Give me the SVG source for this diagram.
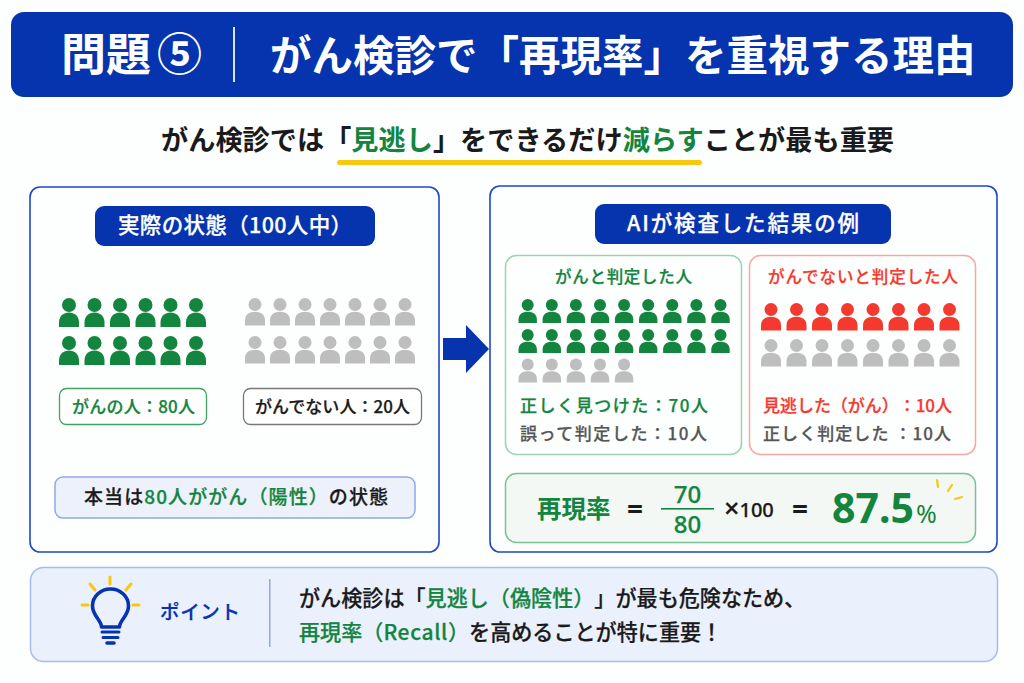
<svg xmlns="http://www.w3.org/2000/svg" width="1024" height="683" viewBox="0 0 1024 683">
<style>
text{font-family:"Noto Sans CJK JP","Noto Sans",sans-serif;font-weight:700;text-spacing-trim:space-all}
.n{font-family:"Noto Sans","Noto Sans CJK JP",sans-serif}
.m{font-weight:500;stroke-width:.25}
.pg{fill:#13853E}.pa{fill:#BEBEBE}.pr{fill:#F4392E}
.g{fill:#13853E;stroke:#13853E}.k{fill:#1A1A1A;stroke:#1A1A1A}.w{fill:#fff;stroke:#fff}.d{fill:#565656;stroke:#565656}.r{fill:#F4392E;stroke:#F4392E}.b{fill:#0534AE;stroke:#0534AE}
text{stroke-width:0}
text.m{stroke-width:.25}
.panel{fill:#FDFEFE;stroke:#1E47C8;stroke-width:1.6}
</style>
<defs>
<g id="p"><circle cx="0" cy="7" r="7"/><path d="M-10 29V24.500C-10 18-5.500 14.500 0 14.500S10 18 10 24.500V29Z"/></g>
<g id="p2"><circle cx="0" cy="6" r="6"/><path d="M-9.200 24V20.500C-9.200 15-5 12.700 0 12.700S9.200 15 9.200 20.500V24Z"/></g>
<g id="p3"><circle cx="0" cy="6.500" r="6.500"/><path d="M-10 27.500V22.500C-10 16.500-5.500 13.800 0 13.800S10 16.500 10 22.500V27.500Z"/></g>
<g id="l6"><use href="#p" x="69"/><use href="#p" x="94.500"/><use href="#p" x="120"/><use href="#p" x="145.500"/><use href="#p" x="170.500"/><use href="#p" x="196"/></g>
<g id="l7"><use href="#p3" x="255"/><use href="#p3" x="280"/><use href="#p3" x="305"/><use href="#p3" x="330"/><use href="#p3" x="355"/><use href="#p3" x="380"/><use href="#p3" x="405"/></g>
<g id="c9"><use href="#p2" x="527.700"/><use href="#p2" x="551.800"/><use href="#p2" x="575.900"/><use href="#p2" x="600"/><use href="#p2" x="624.100"/><use href="#p2" x="648.200"/><use href="#p2" x="672.300"/><use href="#p2" x="696.400"/><use href="#p2" x="720.500"/></g>
<g id="c5"><use href="#p2" x="527.700"/><use href="#p2" x="551.800"/><use href="#p2" x="575.900"/><use href="#p2" x="600"/><use href="#p2" x="624.100"/></g>
<g id="n8"><use href="#p3" x="771"/><use href="#p3" x="796.500"/><use href="#p3" x="822"/><use href="#p3" x="847.500"/><use href="#p3" x="873"/><use href="#p3" x="898.500"/><use href="#p3" x="924"/><use href="#p3" x="949.500"/></g>
</defs>
<rect width="1024" height="683" fill="#FDFEFE"/>
<g id="header">
<rect x="11" y="12" width="1002" height="85" rx="13" fill="#0534AE"/>
<text x="61" y="71" class="w" font-size="45">問題<tspan dx="6">⑤</tspan></text>
<rect x="233" y="27" width="2" height="55" fill="#DDE4F6"/>
<text x="270" y="71" class="w" font-size="41.500">がん検診で「再現率」を重視する理由</text>
</g>
<g id="subtitle">
<rect x="337" y="160" width="365" height="5" rx="2.500" fill="#F9C80E"/>
<text x="161" y="150" class="k" font-size="27.200">がん検診では「<tspan class="g">見逃し</tspan>」をできるだけ<tspan class="g">減らす</tspan>ことが最も重要</text>
</g>
<g id="panel-left">
<rect x="30" y="187" width="409" height="365" rx="10" class="panel"/>
<rect x="95" y="206" width="280" height="40" rx="9" fill="#0534AE"/>
<text x="118" y="233" class="w m" font-size="21.500" textLength="234">実際の状態（100人中）</text>
</g>
<g id="people-left">
<use href="#l6" class="pg" y="298"/><use href="#l6" class="pg" y="336"/>
<use href="#l7" class="pa" y="298"/><use href="#l7" class="pa" y="336"/>
</g>
<g id="label-cancer">
<rect x="59.500" y="388.500" width="147" height="36" rx="7" fill="#fff" stroke="#3FA262" stroke-width="1.300"/>
<text x="72" y="413" class="g m" font-size="17" textLength="123">がんの人：80人</text>
</g>
<g id="label-noncancer">
<rect x="243.500" y="388.500" width="178" height="36" rx="7" fill="#fff" stroke="#777" stroke-width="1.300"/>
<text x="255" y="413" class="k m" font-size="17" textLength="155">がんでない人：20人</text>
</g>
<g id="truth">
<rect x="55" y="477" width="360" height="41" rx="8" fill="#EDF1FC" stroke="#90A8E8" stroke-width="1.500"/>
<text x="84" y="504" class="k m" font-size="19" textLength="304">本当は<tspan class="g">80人ががん（陽性）</tspan>の状態</text>
</g>
<g id="connectors">
<path d="M443 338H466V325L489 349L466 373V360H443Z" fill="#0534AE"/>
</g>
<g id="panel-right">
<rect x="490" y="186" width="507" height="366" rx="10" class="panel"/>
<rect x="595" y="204" width="296" height="40" rx="9" fill="#0534AE"/>
<text x="627" y="231" class="w m" font-size="21.500" textLength="232">AIが検査した結果の例</text>
</g>
<g id="box-positive">
<rect x="505.500" y="255.500" width="236" height="199" rx="11" fill="#FDFEFE" stroke="#9ED2B0" stroke-width="1.500"/>
<text x="555" y="283" class="g m" font-size="16.500" textLength="137">がんと判定した人</text>
<use href="#c9" class="pg" y="299"/><use href="#c9" class="pg" y="329"/><use href="#c5" class="pa" y="358.500"/>
<text x="520" y="412" class="g m" font-size="17" textLength="188">正しく見つけた：70人</text>
<text x="520" y="440" class="d m" font-size="17" textLength="187">誤って判定した：10人</text>
</g>
<g id="box-negative">
<rect x="749.500" y="255.500" width="226" height="199" rx="11" fill="#FDFEFE" stroke="#F7A8A2" stroke-width="1.500"/>
<text x="768" y="283" class="r m" font-size="16.500" textLength="190">がんでないと判定した人</text>
<use href="#n8" class="pr" y="303"/><use href="#n8" class="pa" y="339"/>
<text x="763" y="412" class="r m" font-size="17" textLength="189">見逃した（がん）：10人</text>
<text x="763" y="440" class="d m" font-size="17" textLength="188">正しく判定した ：10人</text>
</g>
<g id="formula">
<rect x="505.500" y="473.500" width="470" height="69" rx="11" fill="#F3F8F5" stroke="#7CC096" stroke-width="1.500"/>
<text x="537" y="518" class="g" font-size="24.500">再現率</text>
<text x="635" y="519" class="k n" font-size="28" text-anchor="middle">=</text>
<text x="687.500" y="503" class="g m n" font-size="24" text-anchor="middle">70</text>
<rect x="661" y="508" width="53" height="1.600" fill="#13853E"/>
<text x="687.500" y="533" class="g m n" font-size="24" text-anchor="middle">80</text>
<text x="724" y="517" class="k m n" font-size="22"><tspan font-size="27" dy="1">×</tspan><tspan dy="-1" font-size="20">100</tspan></text>
<text x="800" y="519" class="k n" font-size="28" text-anchor="middle">=</text>
<text x="832" y="523" class="g n" font-size="41">87.5</text>
<text x="916" y="523" class="g n" font-size="25" style="font-weight:400">%</text>
<path d="M937 480L938 487M952 485L948 491M962 497L955 499" stroke="#F9C80E" stroke-width="2.200" stroke-linecap="round" fill="none"/>
</g>
<g id="point">
<rect x="30.500" y="567.500" width="967" height="94" rx="13" fill="#EBF0FD" stroke="#A6BCEF" stroke-width="1.500"/>
<path d="M101.500 627C101.500 620 92.500 616 92.500 606C92.500 596 101 589 110.500 589C120 589 128.500 596 128.500 606C128.500 616 119.500 620 119.500 627Z" fill="#EBF0FD" stroke="#0534AE" stroke-width="3.600" stroke-linejoin="round"/>
<path d="M102 632H119M103 637.500H118" stroke="#0534AE" stroke-width="3" stroke-linecap="round"/>
<path d="M107 643H114" stroke="#0534AE" stroke-width="3.600" stroke-linecap="round"/>
<path d="M110 577V584M90 584L95 590M131 584L126 590M82 605H88M133 605H139" stroke="#F9C80E" stroke-width="3" stroke-linecap="round"/>
<text x="160" y="619" class="b m" font-size="19.500" textLength="80">ポイント</text>
<rect x="269" y="579" width="1.500" height="68" fill="#8FA9E6"/>
<text x="299" y="606" class="k m" font-size="21.100">がん検診は「<tspan class="g">見逃し（偽陰性）</tspan>」が最も危険なため、</text>
<text x="299" y="640" class="k m" font-size="21.100"><tspan class="g">再現率（<tspan letter-spacing=".6">Recall</tspan>）</tspan>を高めることが特に重要！</text>
</g>
</svg>
